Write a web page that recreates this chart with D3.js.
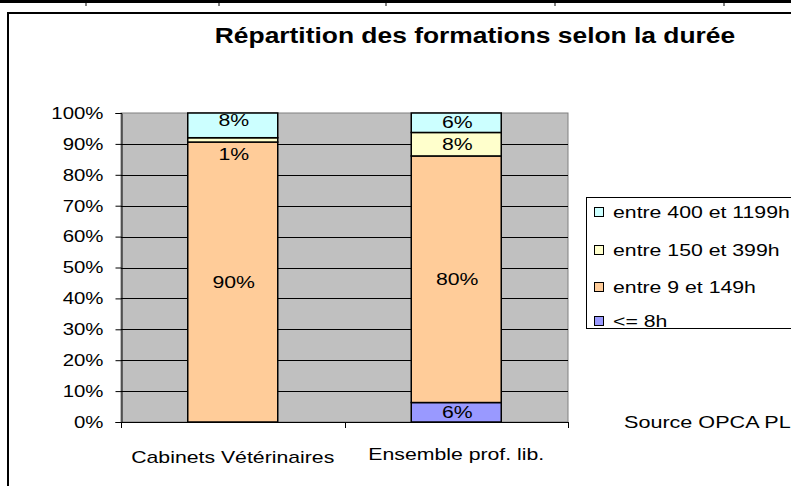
<!DOCTYPE html>
<html><head><meta charset="utf-8">
<script src="https://cdn.jsdelivr.net/npm/d3@7"></script>
<style>
html,body{margin:0;padding:0;background:#fff;}
svg{display:block;font-family:"Liberation Sans",Arial,sans-serif;}
</style></head>
<body>
<svg id="chart" width="791" height="486"></svg>
<script>
// ---- data ----
const categories = ["Cabinets Vétérinaires", "Ensemble prof. lib."];
const seriesNames = ["<= 8h", "entre 9 et 149h", "entre 150 et 399h", "entre 400 et 1199h"];
const seriesColors = ["#9999FF", "#FFCC99", "#FFFFCC", "#CCFFFF"];
const vLe8 = [0, 6.3];
const v9to149 = [90.6, 79.8];
const v150to399 = [1.4, 7.6];
const v400to1199 = [8.0, 6.3];
const labelsLe8 = ["", "6%"];
const labels9to149 = ["90%", "80%"];
const labels150to399 = ["1%", "8%"];
const labels400to1199 = ["8%", "6%"];
const yTicks = [0,10,20,30,40,50,60,70,80,90,100];
const title = "Répartition des formations selon la durée";
const source = "Source OPCA PL";

const seriesValues = [vLe8, v9to149, v150to399, v400to1199];
const seriesLabels = [labelsLe8, labels9to149, labels150to399, labels400to1199];
const table = categories.map((c,i)=>{
  const o = {cat:c};
  seriesNames.forEach((s,k)=>o[s]=seriesValues[k][i]);
  return o;
});

const svg = d3.select("#chart");
const SX = 1.25; // horizontal stretch of text as in the original
const FS = 17;
function stext(g, x, y, str, opts={}) {
  const t = g.append("text")
    .attr("transform", `translate(${x},${y}) scale(${opts.sx||SX},1)`)
    .attr("text-anchor", opts.anchor||"start")
    .attr("dominant-baseline", "central")
    .attr("font-size", opts.size||FS)
    .attr("font-weight", opts.weight||"normal")
    .attr("fill", "#000")
    .text(str);
  return t;
}

// page frame (spreadsheet edge)
svg.append("line").attr("x1",0).attr("x2",791).attr("y1",1.5).attr("y2",1.5).attr("stroke","#000").attr("stroke-width",3);
[86,219,386,555,724].forEach(x=>svg.append("line").attr("x1",x).attr("x2",x).attr("y1",3).attr("y2",6).attr("stroke","#000").attr("stroke-width",1));
svg.append("path").attr("d","M8,486 V13 H791").attr("fill","none").attr("stroke","#000").attr("stroke-width",2);

// title
stext(svg, 475, 35, title, {anchor:"middle", size:22, weight:"bold", sx:1.2});

// plot
const m = {left:121, right:568, top:113, bottom:422};
const x = d3.scaleBand().domain(categories).range([m.left, m.right]).paddingInner(0).paddingOuter(0);
const y = d3.scaleLinear().domain([0,100]).range([m.bottom, m.top]);

svg.append("rect").attr("x",m.left).attr("y",m.top).attr("width",m.right-m.left).attr("height",m.bottom-m.top)
  .attr("fill","#C0C0C0").attr("stroke","#808080").attr("stroke-width",1);

// gridlines
svg.append("g").selectAll("line").data(yTicks.slice(1,-1)).join("line")
  .attr("x1",m.left).attr("x2",m.right).attr("y1",d=>Math.round(y(d))+0.5).attr("y2",d=>Math.round(y(d))+0.5)
  .attr("stroke","#000").attr("stroke-width",1);

// y axis
const yAxis = d3.axisLeft(y).tickValues(yTicks).tickSize(6).tickPadding(12).tickFormat(d=>d+"%");
const gy = svg.append("g").attr("transform",`translate(${m.left+0.5},0)`).call(yAxis);
gy.select(".domain").attr("stroke","#000");
gy.selectAll(".tick line").attr("stroke","#000");
gy.selectAll(".tick text").each(function(d){
  const yy = y(d);
  d3.select(this).remove();
  stext(gy, -18, yy, d+"%", {anchor:"end", sx:1.2});
});

// x axis
svg.append("line").attr("x1",m.left).attr("x2",m.right).attr("y1",m.bottom+0.5).attr("y2",m.bottom+0.5).attr("stroke","#000");
const boundaries = [x.range()[0]].concat(categories.map(c=>x(c)+x.bandwidth()));
svg.append("g").selectAll("line").data(boundaries).join("line")
  .attr("x1",d=>Math.round(d)+0.5).attr("x2",d=>Math.round(d)+0.5).attr("y1",m.bottom).attr("y2",m.bottom+6).attr("stroke","#000");
const catY = [457, 454];
categories.forEach((c,i)=>stext(svg, x(c)+x.bandwidth()/2, catY[i], c, {anchor:"middle"}));

// stacked bars
const stack = d3.stack().keys(seriesNames)(table);
const barW = 90;
const gb = svg.append("g");
stack.forEach((layer,k)=>{
  layer.forEach((seg,i)=>{
    const h = y(seg[0]) - y(seg[1]);
    if (seg[1]-seg[0] <= 0) return;
    const cx = x(categories[i]) + x.bandwidth()/2;
    gb.append("rect").attr("x",cx-barW/2).attr("y",y(seg[1])).attr("width",barW).attr("height",h)
      .attr("fill",seriesColors[k]).attr("stroke","#000").attr("stroke-width",1.5);
  });
});
// labels
stack.forEach((layer,k)=>{
  layer.forEach((seg,i)=>{
    const lab = seriesLabels[k][i];
    if (!lab) return;
    const cx = x(categories[i]) + x.bandwidth()/2;
    let cy = (y(seg[0])+y(seg[1]))/2;
    const h = y(seg[0]) - y(seg[1]);
    if (h < 10) cy = y(seg[0]) + 12;        // tiny segment: label below
    else if (h < 28 && k===3 && stack[2][i][1]-stack[2][i][0] < 3) cy -= 5; // avoid overlap
    stext(svg, cx+1, cy, lab, {anchor:"middle"});
  });
});

// legend
const lg = svg.append("g");
lg.append("rect").attr("x",586.5).attr("y",197.5).attr("width",220).attr("height",131).attr("fill","#fff").attr("stroke","#000").attr("stroke-width",1);
const legendOrder = [3,2,1,0];
const legendY = [212, 250, 287, 321];
legendOrder.forEach((k,j)=>{
  lg.append("rect").attr("x",594.5).attr("y",legendY[j]-4.5).attr("width",9).attr("height",9)
    .attr("fill",seriesColors[k]).attr("stroke","#000").attr("stroke-width",1);
  stext(lg, 613, legendY[j], seriesNames[k]);
});

// source
stext(svg, 624, 422, source, {sx:1.27});
</script>
</body></html>
